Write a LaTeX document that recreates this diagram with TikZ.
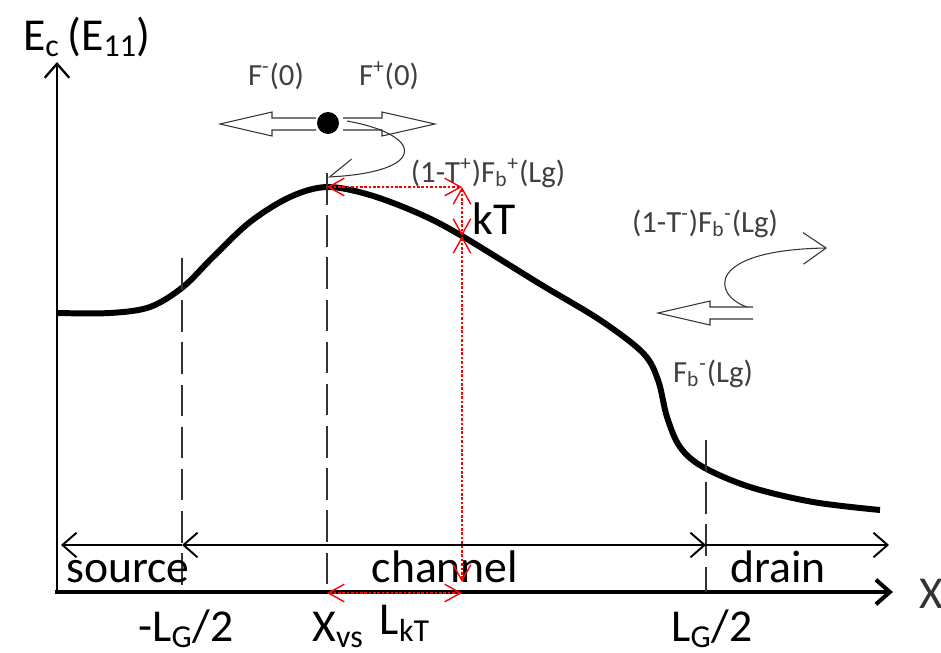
\documentclass[tikz,border=0pt]{standalone}
\usepackage{fontspec}
\setmainfont{Carlito}
\usetikzlibrary{arrows.meta,calc,positioning}

\begin{document}
\begin{tikzpicture}[x=0.02cm,y=-0.02cm,
    >={Straight Barb[length=8pt,width=14pt]},
    big/.style={font=\fontsize{26}{30}\selectfont,anchor=base},
    small/.style={font=\fontsize{17.5}{20}\selectfont,text=black!75,anchor=base},
    guide/.style={line width=0.6pt,black!80,dash pattern=on 18pt off 6pt},
    redtip/.style={red,line width=0.8pt,dash pattern=on 1.5pt off 1pt,
      {Straight Barb[length=9pt,width=10pt]}-{Straight Barb[length=9pt,width=10pt]}},
    hollow/.style={line width=0.6pt,black!80},
    thincurve/.style={line width=0.6pt,black!80}]
  \useasboundingbox (0,0) rectangle (941,653);

  % axes
  \coordinate (O) at (57,592);
  \coordinate (ytip) at (57,62);
  \coordinate (xtip) at (893,592);
  \draw[line width=1.3pt,->] (O) -- (ytip);
  \draw[line width=2.3pt,->] (55,592) -- (xtip);
  \node[big] (ylab) at (87,50) {E\textsubscript{c}\,(E\textsubscript{11})};
  \node[big,text=black!80] (xlab) at (931,608) {X};

  % band edge
  \draw[line width=3.4pt,line join=round] plot[smooth,tension=0.55] coordinates {
    (57,313) (110,313) (150,307) (183,287) (213,257) (250,222) (290,197)
    (327,187) (370,195) (420,214) (462,236) (540,284) (600,320) (643,353)
    (658,380) (667,417) (680,447) (703,467) (750,487) (813,502) (880,510)};

  \coordinate (P) at (327,187);
  \coordinate (R) at (462,187);
  \coordinate (Q) at (462,236);
  \coordinate (Px) at (327,593);
  \coordinate (Qx) at (462,593);
  \coordinate (Qb) at (462,582);

  % guide lines
  \draw[guide] (182,258) -- (182,592);
  \draw[guide] (327,173) -- (327,592);
  \draw[guide] (706,440) -- (706,592);

  % regions
  \coordinate (sL) at (61,545);
  \coordinate (sR) at (182,545);
  \coordinate (dL) at (706,545);
  \coordinate (dR) at (889,545);
  \draw[line width=1.1pt,<-] (sL) -- (sR);
  \draw[line width=1.1pt,<->] (sR) -- (dL);
  \draw[line width=1.1pt,->] (dL) -- (dR);
  \node[big] (src) at (128,582) {source};
  \node[big] (chan) at (445,582) {channel};
  \node[big] (drn) at (778,582) {drain};

  \node[big] (lgm) at (186,641) {-L\textsubscript{G}/2};
  \node[big] (xvs) at (338,641) {X\textsubscript{vs}};
  \node[big] (lkt) at (405,634) {L\textsubscript{kT}};
  \node[big] (lgp) at (712,641) {L\textsubscript{G}/2};

  % kT construction
  \draw[redtip] (P) -- (R);
  \draw[redtip] (R) -- (Q);
  \draw[redtip] (Q) -- (Qb);
  \draw[redtip] (Px) -- (Qx);
  \node[big] (kt) at (494,234) {kT};

  % electron and fluxes
  \fill (328,123) circle[radius=0.22cm];
  \draw[hollow] (316,118) -- (272,118) -- (272,112) -- (220,124) -- (272,136) -- (272,130) -- (316,130);
  \draw[hollow] (343,118) -- (382,118) -- (382,112) -- (435,124) -- (382,136) -- (382,130) -- (343,130);
  \node[small] (fm) at (276,85) {F\textsuperscript{-}(0)};
  \node[small] (fp) at (389,85) {F\textsuperscript{+}(0)};
  \draw[thincurve,-{Straight Barb[length=13pt,width=19pt,harpoon,swap]}]
    (347,121) .. controls (425,135) and (428,172) .. (328,177);
  \node[small] (tp) at (488,182) {(1-T\textsuperscript{+})F\textsubscript{b}\textsuperscript{+}(Lg)};

  \draw[hollow] (753,307) -- (710,307) -- (710,301) -- (658,313) -- (710,325) -- (710,319) -- (753,319);
  \draw[thincurve,-{Straight Barb[length=13pt,width=18pt]}]
    (747,307) .. controls (712,295) and (705,250) .. (827,248);
  \node[small] (tm) at (705,232) {(1-T\textsuperscript{-})F\textsubscript{b}\textsuperscript{-}(Lg)};
  \node[small] (fb) at (713,382) {F\textsubscript{b}\textsuperscript{-}(Lg)};
\end{tikzpicture}
\end{document}
